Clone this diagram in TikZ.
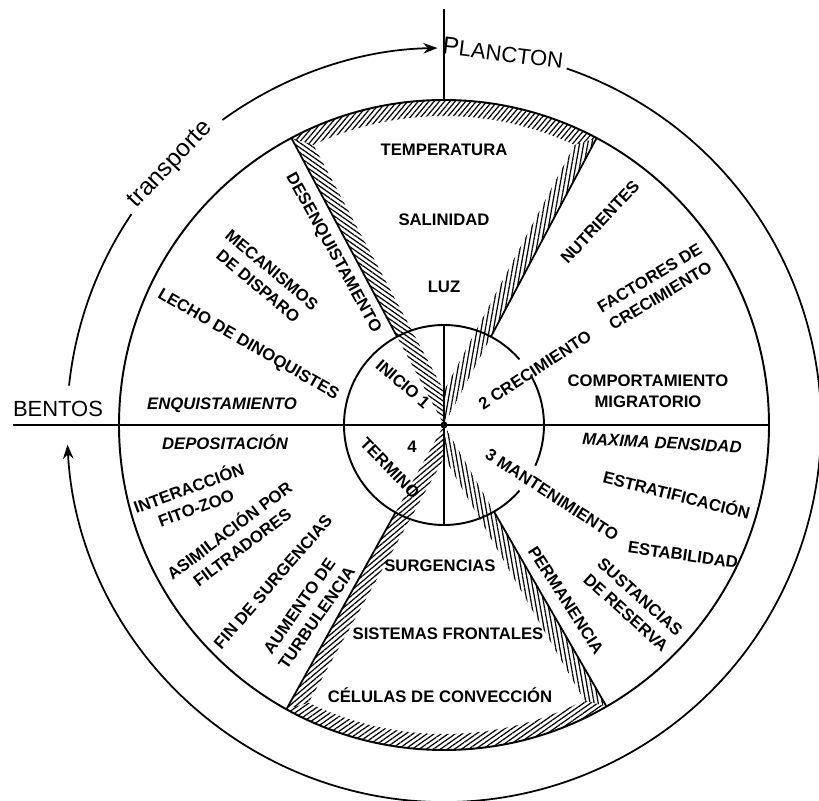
\documentclass[tikz,border=0pt]{standalone}
\usepackage{fontspec}
\setmainfont{Liberation Sans}
\usetikzlibrary{arrows.meta,patterns.meta}

\newcommand\lblfont{\fontsize{9.5}{12}\selectfont\bfseries}
\tikzset{
  lbl/.style={font=\lblfont,align=center,inner sep=0pt},
  ilbl/.style={lbl,font=\lblfont\itshape},
  hatch/.style={pattern={Lines[angle=#1,distance=2.3pt,line width=0.7pt]}},
  ring/.style={line width=1.1pt},
  flow/.style={-{Stealth[length=8pt,width=6pt]}},
}

\begin{document}
\begin{tikzpicture}[x=0.02cm,y=0.02cm,line width=1pt]
  \useasboundingbox (-444,-376) rectangle (375,425);

  % hatched bands, upper wedge
  \fill[hatch=-35] (0,0) -- (118:325) -- (115:309) -- (90:34.1) -- cycle;
  \fill[hatch=50] (118:325) arc[start angle=118,end angle=62,radius=325]
    -- (65:309) arc[start angle=65,end angle=115,radius=309] -- cycle;
  \fill[hatch=80] (0,0) -- (62:325) -- (65:309) -- (90:34.1) -- cycle;

  % hatched bands, lower wedge
  \fill[hatch=40] (0,0) -- (-119:325) -- (-116:309) -- (-89.5:32.5) -- cycle;
  \fill[hatch=35] (-119:325) arc[start angle=-119,end angle=-60,radius=325]
    -- (-63:309) arc[start angle=-63,end angle=-116,radius=309] -- cycle;
  \fill[hatch=-80] (0,0) -- (-60:325) -- (-63:309) -- (-89.5:32.5) -- cycle;

  % circles and axes
  \draw[ring] (0,0) circle[radius=325];
  \draw[ring] (41:100) arc[start angle=41,end angle=319,radius=100];
  \draw[ring] (-24:100) arc[start angle=-24,end angle=29,radius=100];
  \draw[line width=1.2pt] (-431,0) -- (0:325);
  \draw (0,416) -- (90:325);
  \draw (90:100) -- (270:100);
  \fill (0,0) circle[radius=3.5];

  % wedge sides
  \draw (118:100) -- (118:325);
  \draw (62:100) -- (62:325);
  \draw (-119:100) -- (-119:325);
  \draw (-60:100) -- (-60:325);

  % transport
  \draw (174:377) arc[start angle=174,end angle=146,radius=377];
  \draw[flow] (126:377) arc[start angle=126,end angle=91,radius=377];
  \draw[flow] (71:377) arc[start angle=71,end angle=-177,radius=377];
  \node (bentos) at (-386,16) {\fontsize{12.5}{14}\selectfont BENTOS};
  \node[rotate=-7] (plancton) at (59,372)
    {\fontsize{14}{15}\selectfont P\fontsize{12.5}{14}\selectfont LANCTON};
  \node[rotate=46.4] (transporte) at (136.4:377) {\fontsize{14}{16}\selectfont transporte};

  % upper wedge
  \node[lbl] (temp) at (0,275) {TEMPERATURA};
  \node[lbl] (sal) at (0,205) {SALINIDAD};
  \node[lbl] (luz) at (0,138) {LUZ};

  % lower wedge
  \node[lbl] (surg) at (-4,-141) {SURGENCIAS};
  \node[lbl] (frent) at (4,-209) {SISTEMAS FRONTALES};
  \node[lbl] (conv) at (-4,-270) {CÉLULAS DE CONVECCIÓN};

  % inicio
  \node[lbl,rotate=-61] (desenq) at (-111,172) {DESENQUISTAMENTO};
  \node[lbl,rotate=-40] (mecan) at (-179,147) {MECANISMOS\\DE DISPARO};
  \node[lbl,rotate=-30] (lecho) at (-196,80) {LECHO DE DINOQUISTES};
  \node[ilbl] (enq) at (-222,20) {ENQUISTAMIENTO};
  \node[lbl,rotate=-41] (inicio) at (-41,41) {INICIO 1};

  % crecimiento
  \node[lbl,rotate=47] (nutr) at (156,203) {NUTRIENTES};
  \node[lbl,rotate=31] (factor) at (211,138) {FACTORES DE\\CRECIMIENTO};
  \node[lbl,rotate=33] (crec) at (91,55) {2 CRECIMIENTO};
  \node[lbl] (compor) at (204,34) {COMPORTAMIENTO\\MIGRATORIO};

  % mantenimiento
  \node[ilbl,rotate=-3] (maxdens) at (218,-18) {MAXIMA DENSIDAD};
  \node[lbl,rotate=-14] (estrat) at (233,-69) {ESTRATIFICACIÓN};
  \node[lbl,rotate=-33] (mant) at (108,-70) {3 MANTENIMIENTO};
  \node[lbl,rotate=-8] (estab) at (239,-130) {ESTABILIDAD};
  \node[lbl,rotate=-42] (sust) at (189,-180) {SUSTANCIAS\\DE RESERVA};
  \node[lbl,rotate=-57] (perm) at (122,-175) {PERMANENCIA};

  % termino
  \node[ilbl] (depos) at (-219,-17) {DEPOSITACIÓN};
  \node[lbl,rotate=20] (interac) at (-252,-72) {INTERACCIÓN\\FITO-ZOO};
  \node[lbl,rotate=37] (asim) at (-209,-113) {ASIMILACIÓN POR\\FILTRADORES};
  \node[lbl,rotate=49] (finsurg) at (-171,-157) {FIN DE SURGENCIAS};
  \node[lbl,rotate=55] (turb) at (-136,-187) {AUMENTO DE\\TURBULENCIA};
  \node[lbl,rotate=-46] (termino) at (-54,-43) {TERMINO};
  \node[lbl] (cuatro) at (-32,-22) {4};
\end{tikzpicture}
\end{document}
